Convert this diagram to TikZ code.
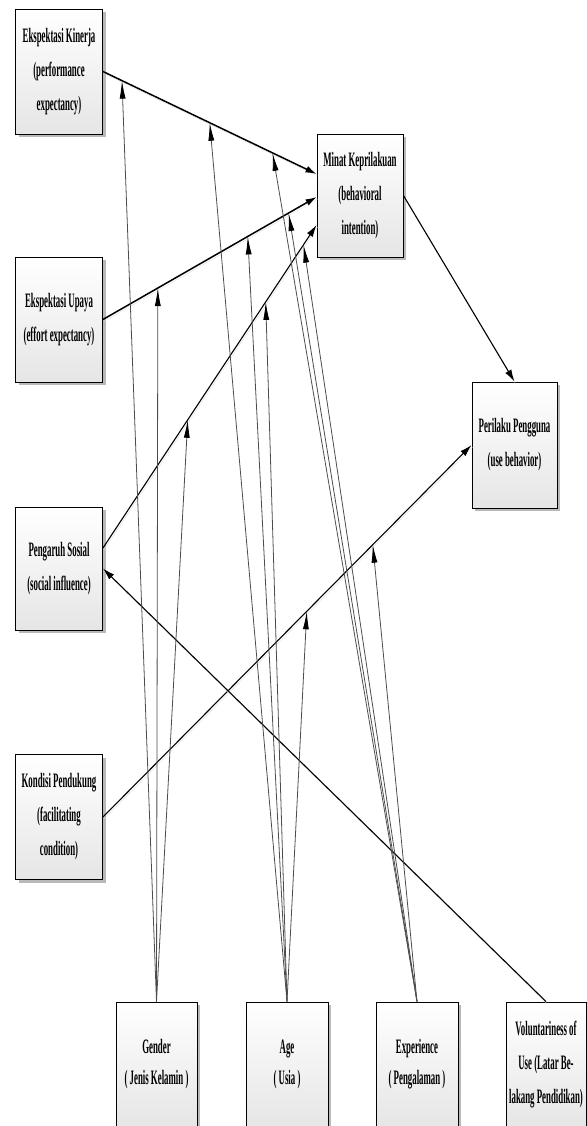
\documentclass[tikz,border=0pt]{standalone}
\usepackage{fontspec}
\setmainfont{Liberation Serif}[FakeStretch=0.43]
\usetikzlibrary{arrows.meta,shadows,calc}
\begin{document}
\begin{tikzpicture}[x=1pt,y=-1pt,
  box/.style={draw=black, line width=0.9pt, top color=white, bottom color=gray!20,
    minimum width=87pt, minimum height=125pt, inner sep=0pt, align=center,
    font=\fontsize{20.5}{34}\selectfont\bfseries,
    drop shadow={shadow xshift=3pt, shadow yshift=-3pt, fill=gray!55, opacity=1}},
  lowbox/.style={box, font=\fontsize{20.5}{31}\selectfont\bfseries},
  shade line/.style={preaction={draw=gray!25, -, transform canvas={shift={(1pt,-2pt)}}}},
  mainthick/.style={line width=1.5pt, -{Latex[length=11pt,width=7pt]}, shade line},
  conn/.style={line width=1.1pt, -{Latex[length=12pt,width=7pt]}, shade line},
  mod/.style={line width=0.8pt, draw=gray!60!black, -{Latex[length=18pt,width=6pt,color=black]}}
]
\useasboundingbox (0,0) rectangle (586,1126);

\node[box] (ek) at (59,71.5) {Ekspektasi Kinerja\\(performance\\expectancy)};
\node[box] (eu) at (59,319.5) {Ekspektasi Upaya\\(effort expectancy)};
\node[box, minimum height=123pt] (ps) at (59,568.5) {Pengaruh Sosial\\(social influence)};
\node[box] (kd) at (59,817) {Kondisi Pendukung\\(facilitating\\condition)};
\node[box, minimum width=86pt, minimum height=123pt] (minat) at (360,195.5) {Minat Keprilakuan\\(behavioral\\intention)};
\node[box, minimum width=85pt, minimum height=126pt] (pu) at (514.5,445) {Perilaku Pengguna\\(use behavior)};
\node[lowbox, minimum width=81pt] (gender) at (156.5,1064.5) {Gender\\( Jenis Kelamin )};
\node[lowbox, minimum width=82pt] (age) at (287,1064.5) {Age\\( Usia )};
\node[lowbox, minimum width=82pt] (exp) at (417,1064.5) {Experience\\( Pengalaman )};
\node[box, minimum width=80pt] (vol) at (546,1064.5) {Voluntariness of\\Use (Latar Be-\\lakang Pendidikan)};

\coordinate (m1) at ($(minat.west)+(0,-21.5)$);
\coordinate (m2) at ($(minat.west)+(0,1.5)$);
\coordinate (m3) at ($(minat.west)+(0,29.5)$);
\coordinate (psout) at ($(ps.east)+(0,-20.5)$);

\draw[mainthick] (ek.east) -- coordinate[pos=0.089](ek1) coordinate[pos=0.5](ek2) coordinate[pos=0.794](ek3) (m1);
\draw[mainthick] (eu.east) -- coordinate[pos=0.257](eu1) coordinate[pos=0.678](eu2) coordinate[pos=0.869](eu3) (m2);
\draw[conn] (psout) -- coordinate[pos=0.397](ps1) coordinate[pos=0.762](ps2) coordinate[pos=0.939](ps3) (m3);
\draw[conn] (kd.east) -- coordinate[pos=0.553](kd1) coordinate[pos=0.732](kd2) (pu.west);
\draw[conn] (minat.east) -- (pu.north);
\draw[conn] (vol.north) -- (ps.east);

\draw[mod] (gender.north) -- (ek1);
\draw[mod] (gender.north) -- (eu1);
\draw[mod] (gender.north) -- (ps1);
\draw[mod] (age.north) -- (ek2);
\draw[mod] (age.north) -- (eu2);
\draw[mod] (age.north) -- (ps2);
\draw[mod] (age.north) -- (kd1);
\draw[mod] (exp.north) -- (ek3);
\draw[mod] (exp.north) -- (eu3);
\draw[mod] (exp.north) -- (ps3);
\draw[mod] (exp.north) -- (kd2);
\end{tikzpicture}
\end{document}
